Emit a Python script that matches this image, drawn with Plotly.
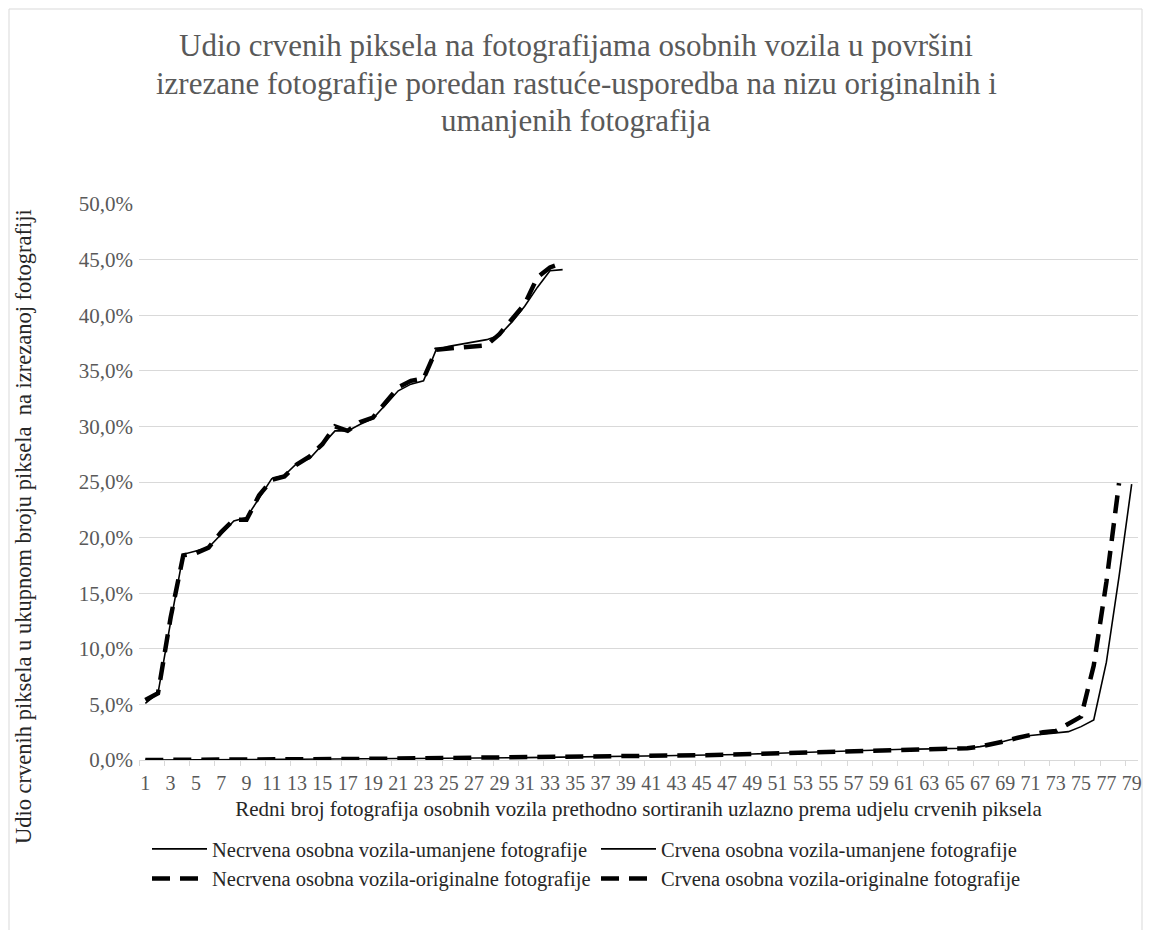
import plotly.graph_objects as go

# Share of red pixels (%) per photo, sorted ascending
photo_index = list(range(1, 80))

red_reduced = [5.1, 6.0, 12.4, 18.5, 18.8, 19.1, 20.3, 21.5, 21.8, 23.5,
               25.3, 25.6, 26.7, 27.1, 28.3, 29.6, 29.6, 30.2, 30.7, 32.0,
               33.2, 33.8, 34.1, 36.9, 37.2, 37.4, 37.6, 37.8, 38.2, 39.4,
               40.8, 42.5, 44.0, 44.1]

red_original = [5.4, 6.0, 12.8, 18.4, 18.6, 19.1, 20.5, 21.6, 21.6, 23.8,
                25.2, 25.5, 26.6, 27.3, 28.4, 30.0, 29.6, 30.4, 30.8, 32.2,
                33.5, 34.1, 34.3, 36.9, 37.0, 37.1, 37.3, 37.3, 38.3, 39.7,
                41.0, 43.4, 44.3, 44.7]

nonred_reduced = [0.00, 0.00, 0.01, 0.01, 0.02, 0.02, 0.03, 0.03, 0.04, 0.05,
                  0.05, 0.06, 0.07, 0.07, 0.08, 0.09, 0.10, 0.10, 0.11, 0.12,
                  0.13, 0.14, 0.14, 0.15, 0.16, 0.17, 0.17, 0.18, 0.19, 0.20,
                  0.21, 0.22, 0.23, 0.24, 0.25, 0.26, 0.28, 0.30, 0.32, 0.34,
                  0.36, 0.38, 0.40, 0.41, 0.42, 0.44, 0.47, 0.50, 0.54, 0.58,
                  0.61, 0.64, 0.68, 0.72, 0.76, 0.80, 0.84, 0.87, 0.90, 0.93,
                  0.96, 0.98, 1.00, 1.02, 1.04, 1.06, 1.20, 1.40, 1.70, 2.00,
                  2.20, 2.30, 2.40, 2.55, 3.00, 3.60, 8.80, 16.50, 24.80]

nonred_original = [0.00, 0.00, 0.01, 0.01, 0.02, 0.02, 0.03, 0.03, 0.04, 0.05,
                   0.05, 0.06, 0.07, 0.07, 0.08, 0.09, 0.10, 0.10, 0.11, 0.12,
                   0.13, 0.14, 0.14, 0.15, 0.16, 0.17, 0.17, 0.18, 0.19, 0.20,
                   0.21, 0.22, 0.23, 0.24, 0.25, 0.26, 0.28, 0.30, 0.32, 0.34,
                   0.36, 0.38, 0.40, 0.41, 0.42, 0.44, 0.47, 0.50, 0.54, 0.58,
                   0.61, 0.64, 0.68, 0.72, 0.76, 0.80, 0.84, 0.87, 0.90, 0.93,
                   0.96, 0.98, 1.00, 1.02, 1.04, 1.06, 1.20, 1.40, 1.70, 2.00,
                   2.30, 2.50, 2.60, 3.30, 3.90, 8.50, 16.00, 24.90]

series_names = [
    "Necrvena osobna vozila-umanjene fotografije",
    "Crvena osobna vozila-umanjene fotografije",
    "Necrvena osobna vozila-originalne fotografije",
    "Crvena osobna vozila-originalne fotografije",
]

title_lines = [
    "Udio crvenih piksela na fotografijama osobnih vozila u površini",
    "izrezane fotografije poredan rastuće-usporedba na nizu originalnih i",
    "umanjenih fotografija",
]
y_title = "Udio crvenih piksela u ukupnom broju piksela  na izrezanoj fotografiji"
x_title = "Redni broj fotografija osobnih vozila prethodno sortiranih uzlazno prema udjelu crvenih piksela"

tick_labels = [str(i) for i in range(1, 80, 2)]

SERIF = "Liberation Serif, Times New Roman, serif"
GRID = "#d9d9d9"

fig = go.Figure()

dash_style = dict(color="black", width=4.5, dash="18px,10px")
solid_style = dict(color="black", width=1.6)

# dashed (original photos) underneath, solid (reduced photos) on top
fig.add_trace(go.Scatter(x=photo_index[:len(nonred_original)], y=nonred_original,
                         mode="lines", name=series_names[2], line=dash_style, legendrank=3))
fig.add_trace(go.Scatter(x=photo_index[:len(red_original)], y=red_original,
                         mode="lines", name=series_names[3], line=dash_style, legendrank=4))
fig.add_trace(go.Scatter(x=photo_index[:len(nonred_reduced)], y=nonred_reduced,
                         mode="lines", name=series_names[0], line=solid_style, legendrank=1))
fig.add_trace(go.Scatter(x=photo_index[:len(red_reduced)], y=red_reduced,
                         mode="lines", name=series_names[1], line=solid_style, legendrank=2))

L, R, T, B = 139, 14, 204, 170
W, H = 1152, 930
pw, ph = W - L - R, H - T - B


def px_x(p):
    return (p - L) / pw


def px_y(p):
    return (H - B - p) / ph


# three centred title lines
annotations = [
    dict(text=line, xref="paper", yref="paper", x=px_x(576), y=px_y(cy),
         xanchor="center", yanchor="middle", showarrow=False,
         font=dict(family=SERIF, size=31, color="#595959"))
    for line, cy in zip(title_lines, [45, 83, 120])
]
# vertical value-axis title
annotations.append(dict(
    text=y_title, xref="paper", yref="paper", x=px_x(23), y=px_y(527),
    xanchor="center", yanchor="middle", textangle=-90, showarrow=False,
    font=dict(family=SERIF, size=22.5, color="#262626")))

fig.update_layout(
    width=W, height=H,
    margin=dict(l=L, r=R, t=T, b=B, autoexpand=False),
    paper_bgcolor="white", plot_bgcolor="white",
    separators=", ",
    font=dict(family=SERIF, color="#595959"),
    annotations=annotations,
    xaxis=dict(
        range=[0.5, 79.5],
        tickmode="array", tickvals=list(range(1, 80, 2)), ticktext=tick_labels,
        ticks="", showgrid=False, zeroline=False,
        showline=True, linecolor=GRID, linewidth=1,
        minor=dict(tickmode="linear", tick0=0.5, dtick=2, ticks="outside",
                   ticklen=5, tickcolor=GRID, showgrid=False),
        ticklabelstandoff=5,
        tickfont=dict(family=SERIF, size=20, color="#595959"),
        title=dict(text=x_title,
                   font=dict(family=SERIF, size=21, color="#262626"), standoff=8),
    ),
    yaxis=dict(
        range=[0, 50], tickmode="linear", tick0=0, dtick=5,
        tickformat=".1f", ticksuffix="%",
        showgrid=True, gridcolor=GRID, gridwidth=1, zeroline=False,
        showline=False, ticks="", ticklabelstandoff=5,
        tickfont=dict(family=SERIF, size=21, color="#595959"),
    ),
    legend=dict(
        orientation="h", x=px_x(147), xanchor="left", y=px_y(829), yanchor="top",
        entrywidth=379, itemwidth=55, traceorder="normal",
        font=dict(family=SERIF, size=20.5, color="#262626"),
        bgcolor="rgba(0,0,0,0)",
    ),
    showlegend=True,
    shapes=[dict(type="rect", xref="paper", yref="paper",
                 x0=px_x(9), x1=px_x(1142), y0=px_y(945), y1=px_y(9),
                 line=dict(color=GRID, width=1), layer="below")],
)

fig.write_html("out.html")
